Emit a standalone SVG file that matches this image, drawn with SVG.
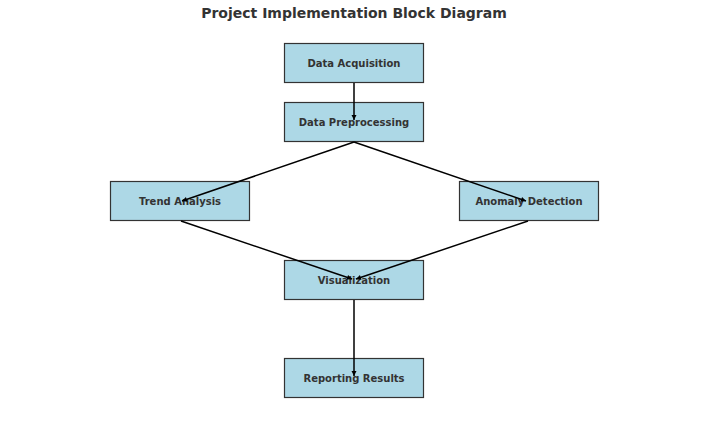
<svg xmlns="http://www.w3.org/2000/svg" width="709" height="423" viewBox="0 0 709 423">
<style>
.box{fill:#ADD8E6;stroke:#333;stroke-width:1.2}
.lbl{font-family:"DejaVu Sans",sans-serif;font-weight:bold;font-size:10px;fill:#333;text-anchor:middle;dominant-baseline:central}
.title{font-family:"DejaVu Sans",sans-serif;font-weight:bold;font-size:14px;fill:#333;text-anchor:middle}
.edge{stroke:#000;stroke-width:1.5;fill:none;marker-end:url(#ah)}
</style>
<defs>
<marker id="ah" viewBox="0 0 10 10" refX="10" refY="5" markerWidth="6" markerHeight="5" markerUnits="userSpaceOnUse" orient="auto" overflow="visible">
<path d="M0,0 L10,5 L0,10 z" fill="#000"/>
</marker>
</defs>
<rect width="709" height="423" fill="#fff"/>
<text class="title" x="354" y="18">Project Implementation Block Diagram</text>
<g id="node-acq"><rect class="box" x="284.5" y="43.5" width="139" height="39"/><text class="lbl" x="354" y="63">Data Acquisition</text></g>
<g id="node-pre"><rect class="box" x="284.5" y="102.5" width="139" height="39"/><text class="lbl" x="354" y="122">Data Preprocessing</text></g>
<g id="node-trend"><rect class="box" x="110.5" y="181.5" width="139" height="39"/><text class="lbl" x="180" y="201">Trend Analysis</text></g>
<g id="node-anom"><rect class="box" x="459.5" y="181.5" width="139" height="39"/><text class="lbl" x="529" y="201">Anomaly Detection</text></g>
<g id="node-vis"><rect class="box" x="284.5" y="260.5" width="139" height="39"/><text class="lbl" x="354" y="280">Visualization</text></g>
<g id="node-rep"><rect class="box" x="284.5" y="358.5" width="139" height="39"/><text class="lbl" x="354" y="378">Reporting Results</text></g>
<g id="connectors">
<line class="edge" x1="354" y1="83" x2="354" y2="120"/>
<line class="edge" x1="354" y1="142" x2="182" y2="201"/>
<line class="edge" x1="354" y1="142" x2="526" y2="201"/>
<line class="edge" x1="181" y1="221" x2="352" y2="279"/>
<line class="edge" x1="528" y1="221" x2="356" y2="279"/>
<line class="edge" x1="354" y1="300" x2="354" y2="376"/>
</g>
</svg>
